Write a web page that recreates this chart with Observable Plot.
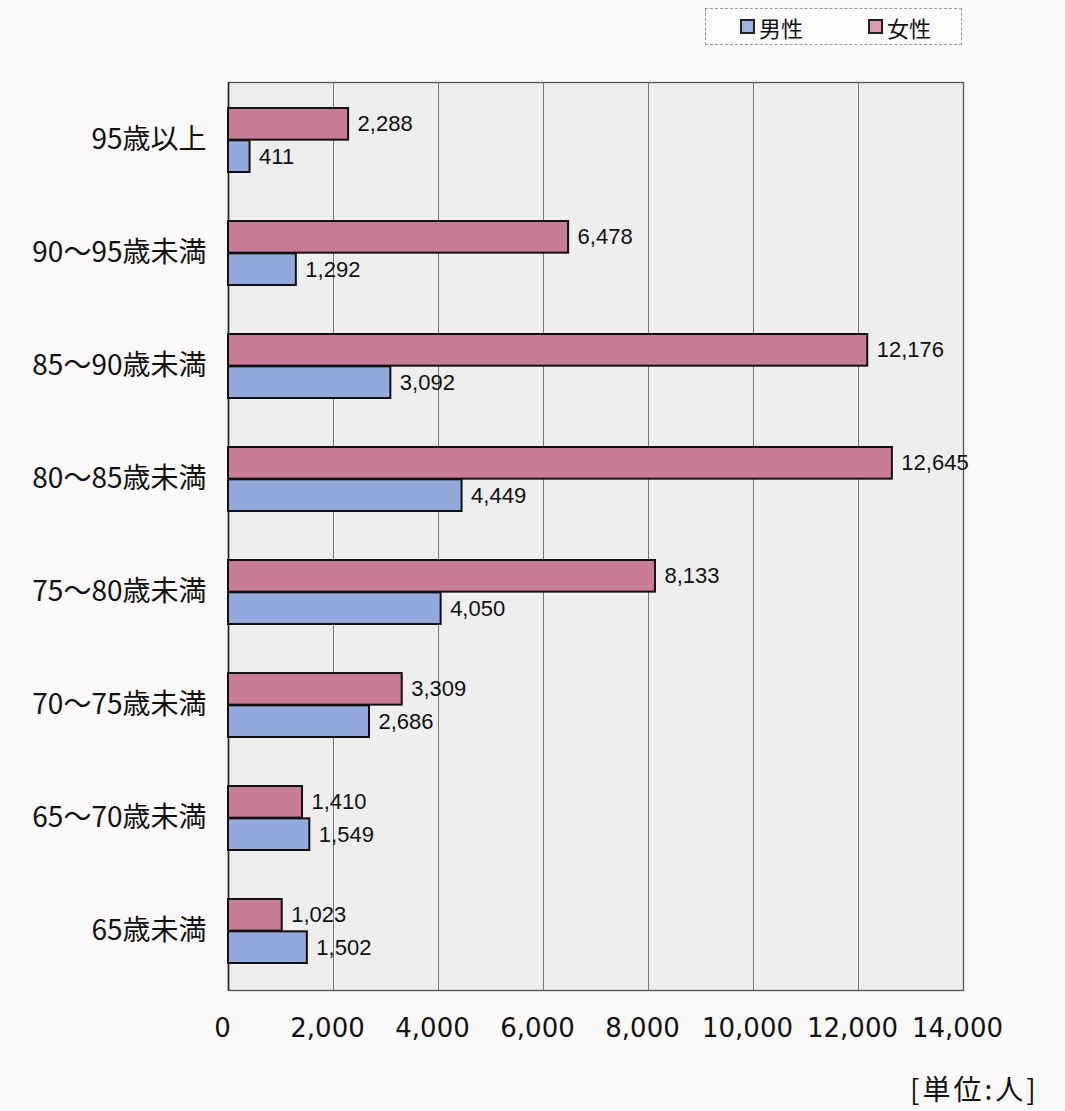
<!DOCTYPE html>
<html>
<head>
<meta charset="utf-8">
<script src="https://cdn.jsdelivr.net/npm/d3@7"></script>
<script src="https://cdn.jsdelivr.net/npm/@observablehq/plot@0.6"></script>
<style>
  html, body { margin: 0; padding: 0; background: #fbf8f8; }
  #wrap { position: relative; width: 1065px; height: 1111px; font-family: "Noto Sans CJK JP", "DejaVu Sans", sans-serif; }
  #wrap svg { position: absolute; left: 0; top: 0; background: transparent; }
  #legend { position: absolute; left: 705px; top: 8px; width: 255px; height: 35px; border: 1px dashed #999; background: #fbfbfb;
            display: flex; align-items: center; font-size: 22px; color: #111; z-index: 2; }
  .item { display: flex; align-items: center; position: absolute; }
  .sw { width: 11px; height: 11px; border: 2px solid #222; margin-right: 4px; }
  #unit { position: absolute; left: 910px; top: 1068px; font-size: 28px; letter-spacing: 3px; color: #111; z-index: 2; white-space: nowrap; }
</style>
</head>
<body>
<div id="wrap">
  <div id="legend">
    <div class="item" style="left:34px"><div class="sw" style="background:#9db2e0"></div><span>男性</span></div>
    <div class="item" style="left:162px"><div class="sw" style="background:#d99aaf"></div><span>女性</span></div>
  </div>
  <div id="unit">[単位:人]</div>
</div>
<script>
const ages = ["95歳以上", "90～95歳未満", "85～90歳未満", "80～85歳未満", "75～80歳未満", "70～75歳未満", "65～70歳未満", "65歳未満"];
const female = [2288, 6478, 12176, 12645, 8133, 3309, 1410, 1023];
const male = [411, 1292, 3092, 4449, 4050, 2686, 1549, 1502];
const xTicks = [0, 2000, 4000, 6000, 8000, 10000, 12000, 14000];

const femaleData = ages.map((a, i) => ({age: a, value: female[i]}));
const maleData = ages.map((a, i) => ({age: a, value: male[i]}));

const W = 1065, H = 1111;
const mTop = 82, mBottom = 121, mLeft = 228, mRight = 102;
const step = (H - mTop - mBottom) / ages.length;
const bw = step * 0.57;
const half = bw / 2;
const fmt = d3.format(",");

const chart = Plot.plot({
  width: W,
  height: H,
  marginTop: mTop,
  marginBottom: mBottom,
  marginLeft: mLeft,
  marginRight: mRight,
  style: {background: "transparent", fontFamily: "'DejaVu Sans', 'Noto Sans CJK JP', sans-serif", color: "#111"},
  x: {domain: [0, 14000], axis: null, label: null},
  y: {domain: ages, paddingInner: 0.43, paddingOuter: 0.215, axis: null, label: null},
  marks: [
    Plot.frame({fill: "#eeeeee", stroke: "none"}),
    Plot.gridX(xTicks, {stroke: "#777", strokeOpacity: 1, strokeWidth: 1}),
    Plot.frame({stroke: "#555", strokeWidth: 1.3}),
    Plot.ruleX([0], {stroke: "#222", strokeWidth: 1.5}),
    Plot.barX(femaleData, {x: "value", y: "age", fill: "#c97c95", stroke: "#111", strokeWidth: 2, insetBottom: half}),
    Plot.barX(maleData, {x: "value", y: "age", fill: "#93a9dc", stroke: "#111", strokeWidth: 2, insetTop: half}),
    Plot.text(femaleData, {x: "value", y: "age", text: d => fmt(d.value), dx: 9, dy: -half / 2, textAnchor: "start", fontSize: 22, fontFamily: "'Liberation Sans', sans-serif", fill: "#111"}),
    Plot.text(maleData, {x: "value", y: "age", text: d => fmt(d.value), dx: 9, dy: half / 2, textAnchor: "start", fontSize: 22, fontFamily: "'Liberation Sans', sans-serif", fill: "#111"}),
    Plot.axisX(xTicks, {tickSize: 0, tickPadding: 28, fontSize: 26, tickFormat: d => fmt(d), fontFamily: "'DejaVu Sans', sans-serif", fill: "#111", label: null, dx: -6}),
    Plot.axisY({tickSize: 0, tickPadding: 22, fontSize: 28, fontFamily: "'Noto Sans CJK JP', sans-serif", fill: "#111", letterSpacing: 3.5, label: null})
  ]
});
document.getElementById("wrap").appendChild(chart);
</script>
</body>
</html>
